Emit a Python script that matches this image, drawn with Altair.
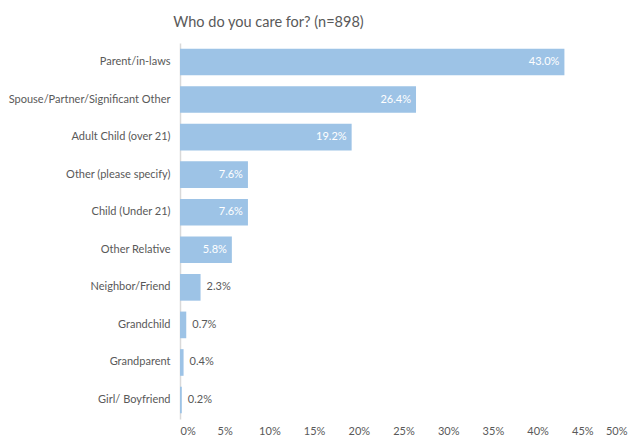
import altair as alt
import pandas as pd

categories = ["Parent/in-laws", "Spouse/Partner/Significant Other", "Adult Child (over 21)",
              "Other (please specify)", "Child (Under 21)", "Other Relative",
              "Neighbor/Friend", "Grandchild", "Grandparent", "Girl/ Boyfriend"]
values = [43.0, 26.4, 19.2, 7.6, 7.6, 5.8, 2.3, 0.7, 0.4, 0.2]
x_ticks = [0, 5, 10, 15, 20, 25, 30, 35, 40, 45, 50]

df = pd.DataFrame({"category": categories, "value": values})

FONT = "Lato"
GREY = "#595959"
BAR = "#9DC3E6"

base = alt.Chart(df).transform_calculate(
    label="format(datum.value, '.1f') + '%'"
).encode(
    y=alt.Y("category:N", sort=categories, title=None,
            scale=alt.Scale(paddingInner=0.29, paddingOuter=0.15),
            axis=alt.Axis(ticks=False, domainColor="#D9D9D9", domainWidth=1.5,
                          labelColor=GREY, labelFont=FONT, labelFontSize=11,
                          labelPadding=10)),
)

bars = base.mark_bar(color=BAR).encode(
    x=alt.X("value:Q", title=None, scale=alt.Scale(domain=[0, 50], nice=False),
            axis=alt.Axis(values=x_ticks, labelExpr="datum.value + '%'", grid=False,
                          ticks=False, domain=False, labelColor=GREY, labelFont=FONT,
                          labelFontSize=11, labelPadding=6)),
)

inside = base.transform_filter("datum.value >= 5").mark_text(
    align="right", dx=-5, color="white", font=FONT, fontSize=11
).encode(x="value:Q", text="label:N")

outside = base.transform_filter("datum.value < 5").mark_text(
    align="left", dx=6, color=GREY, font=FONT, fontSize=11
).encode(x="value:Q", text="label:N")

chart = (bars + inside + outside).properties(
    width=447, height=376,
    autosize=alt.AutoSizeParams(type="none"),
    padding={"left": 172, "top": 35, "right": 2, "bottom": 21},
    title=alt.Title("Who do you care for? (n=898)", font=FONT, fontSize=14.5,
                    fontWeight="normal", color=GREY, anchor="middle", offset=13,
                    dx=-135),
).configure_view(stroke=None)

chart.save("out.html", embed_options={"renderer": "svg", "actions": False})
